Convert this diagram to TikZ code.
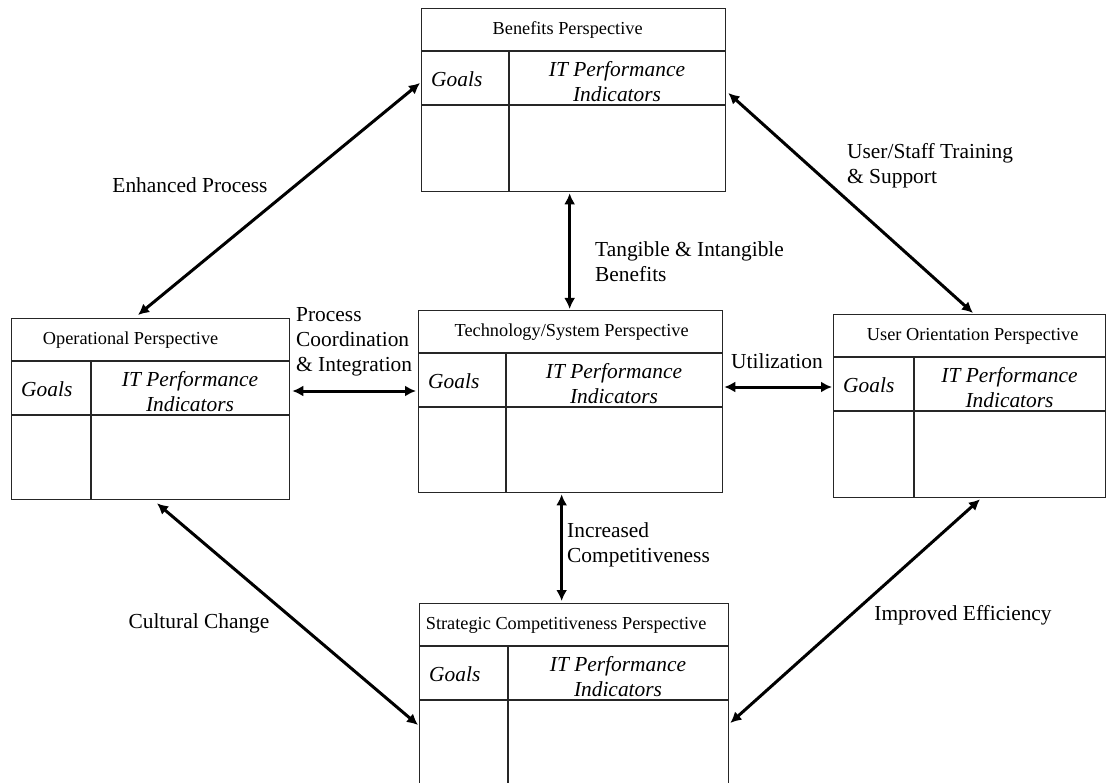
\documentclass[tikz,border=0pt]{standalone}
\usepackage{fontspec}
\setmainfont{Liberation Serif}
\usetikzlibrary{calc,arrows.meta}
\tikzset{
  pbox/.style={draw=black!85, line width=1.3pt, inner sep=0pt, fill=none},
  boxline/.style={draw=black!85, line width=1.3pt},
  titletext/.style={inner sep=0pt, font=\fontsize{18.3}{21}\selectfont},
  goalstext/.style={inner sep=0pt, font=\fontsize{21.4}{25}\selectfont\itshape},
  ittext/.style={inner sep=0pt, align=center, font=\fontsize{21.4}{25}\selectfont\itshape},
  lbl/.style={inner sep=0pt, align=left, font=\fontsize{21.4}{25}\selectfont},
  dar/.style={line width=3pt, {Latex[length=11pt,width=11pt]}-{Latex[length=11pt,width=11pt]}},
}
% #1 name, #2 left, #3 top, #4 width, #5 height, #6 divider offset, #7 title, #8 title x offset
\newcommand{\pbox}[8]{%
  \node[pbox, minimum width=#4pt, minimum height=#5pt, anchor=north west] (#1) at (#2,#3) {};
  \draw[boxline] ($(#1.north west)+(0,43)$) -- ($(#1.north east)+(0,43)$);
  \draw[boxline] ($(#1.north west)+(0,97)$) -- ($(#1.north east)+(0,97)$);
  \draw[boxline] ($(#1.north west)+(#6,43)$) -- ($(#1.south west)+(#6,0)$);
  \node[titletext] (#1-t) at ($(#1.north)+(#8,22)$) {#7};
  \node[goalstext, anchor=west] (#1-g) at ($(#1.north west)+(10,71)$) {Goals};
  \pgfmathsetmacro\itx{(#6+#4)/2}
  \node[ittext] (#1-i) at ($(#1.north west)+(\itx,74)$) {IT Performance\\Indicators};
}
\begin{document}
\begin{tikzpicture}[x=1pt,y=-1pt]
\useasboundingbox (0,0) rectangle (1107,783);
\pbox{B}{421}{8}{304}{183}{88}{Benefits Perspective}{-6}
\pbox{O}{11}{318}{278}{181}{80}{Operational Perspective}{-20}
\pbox{T}{418}{310}{304}{182}{88}{Technology/System Perspective}{1}
\pbox{U}{833}{314}{272}{183}{81}{User Orientation Perspective}{3}
\pbox{S}{419}{603}{309}{183}{89}{Strategic Competitiveness Perspective}{-8}

\draw[dar] ($(B.north west)+(-1,75)$) -- ($(O.north west)+(127,-3)$);
\draw[dar] ($(B.north east)+(2,85)$) -- ($(U.north west)+(140,-1)$);
\draw[dar] ($(B.south)+(-4,1)$) -- ($(T.north)+(-1,-1)$);
\draw[dar] ($(O.north east)+(2,73)$) -- ($(T.north west)+(-2,81)$);
\draw[dar] ($(T.north east)+(1,77)$) -- ($(U.north west)+(-1,73)$);
\draw[dar] ($(T.south)+(-9,1)$) -- ($(S.north)+(-12.5,-2)$);
\draw[dar] ($(O.south west)+(146,3)$) -- ($(S.north west)+(-1,122)$);
\draw[dar] ($(U.south west)+(147,1)$) -- ($(S.north east)+(1,120)$);

\node[lbl] (l1) at (190,185) {Enhanced Process};
\node[lbl, anchor=west] (l2) at (847,166) {User/Staff Training\\\& Support};
\node[lbl, anchor=west] (l3) at (595,262) {Tangible \& Intangible\\Benefits};
\node[lbl, anchor=west] (l4) at (296,342) {Process\\Coordination\\\& Integration};
\node[lbl] (l5) at (777,361) {Utilization};
\node[lbl, anchor=west] (l6) at (567,545) {Increased\\Competitiveness};
\node[lbl] (l7) at (199,623) {Cultural Change};
\node[lbl] (l8) at (963,615) {Improved Efficiency};
\end{tikzpicture}
\end{document}
